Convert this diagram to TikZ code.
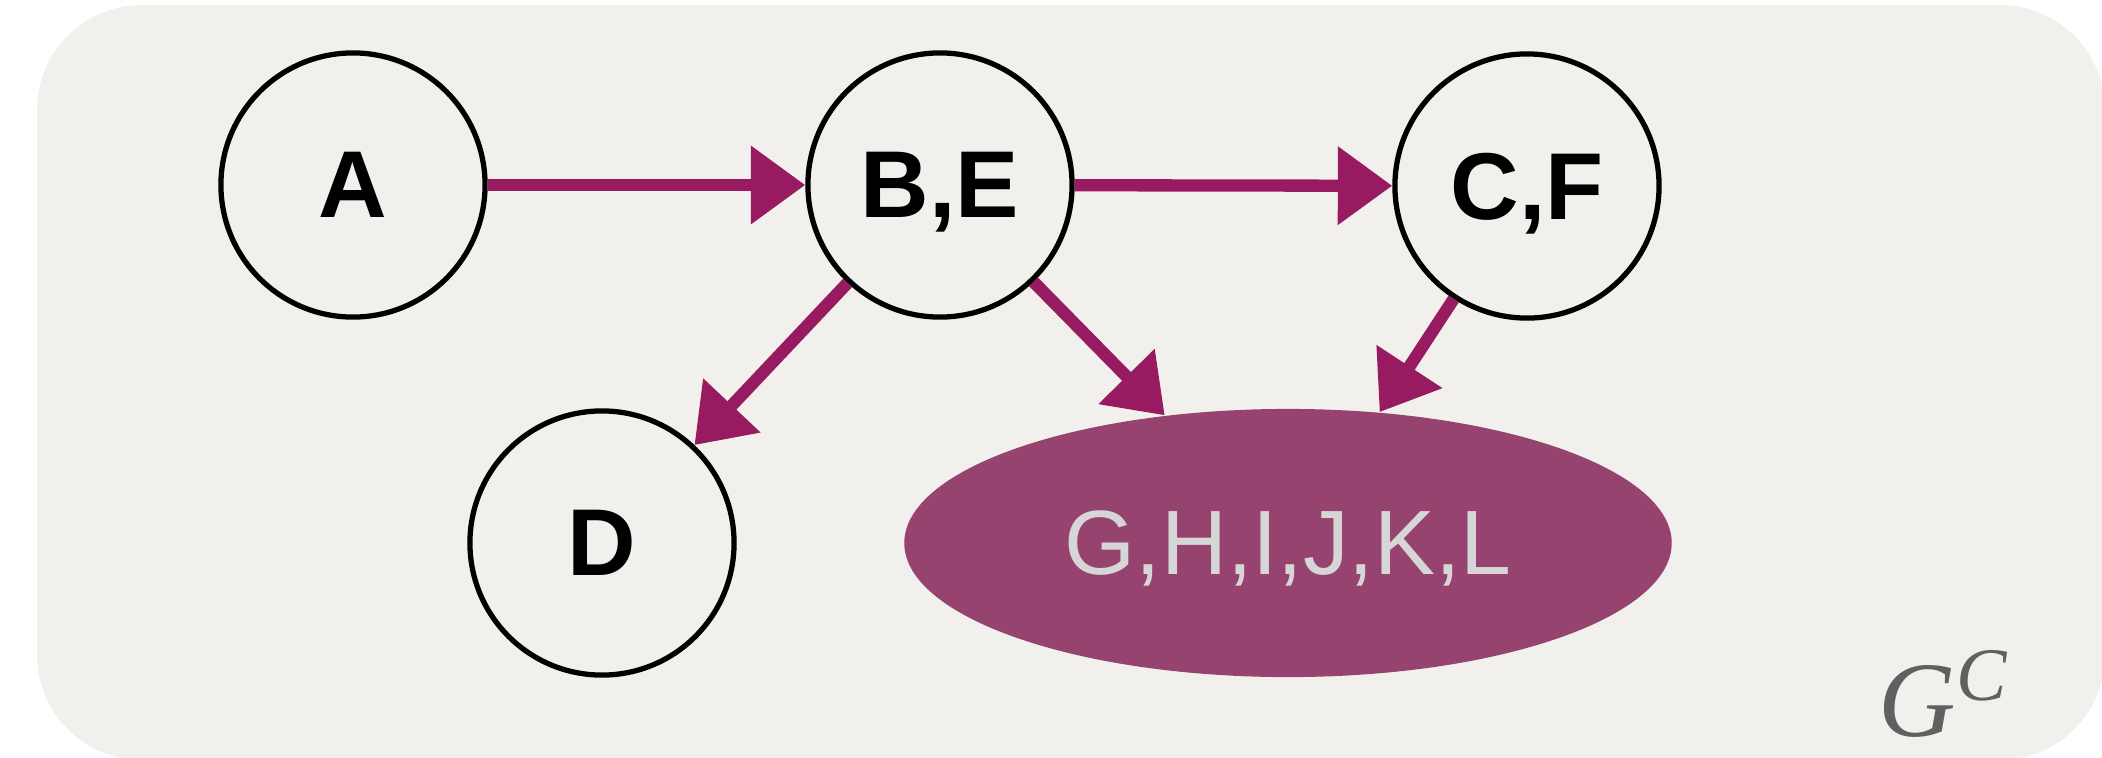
\documentclass[tikz,border=0pt]{standalone}
\usepackage{fontspec}
\setmainfont{Liberation Sans}
\newfontfamily\gcfont{Liberation Serif}
\usetikzlibrary{arrows.meta,shapes.geometric}

\definecolor{panel}{HTML}{F1F0ED}
\definecolor{plum}{HTML}{96436F}
\definecolor{crayon}{HTML}{981A60}
\definecolor{paletext}{HTML}{D6D6D6}
\definecolor{labelgray}{HTML}{606060}

\tikzset{
  cluster/.style={circle, draw=black, line width=1.5pt, minimum size=2.64cm,
    inner sep=0pt, text depth=0pt, font=\fontsize{27}{27}\selectfont\bfseries},
  bignode/.style={ellipse, fill=plum, minimum width=7.67cm, minimum height=2.68cm,
    inner sep=0pt, text depth=0pt, text=paletext, font=\fontsize{26}{26}\selectfont},
  edge/.style={draw=crayon, line width=3.5pt,
    -{Triangle[length=15.5pt, width=21.5pt, fill=crayon]}},
}

\begin{document}
\begin{tikzpicture}[x=0.01cm, y=-0.01cm]
  % page frame and the light panel behind the graph
  \useasboundingbox (0,0) rectangle (2102,757);
  \fill[panel, rounded corners=1.05cm] (37,5) rectangle (2105,760);

  % clusters
  \node[cluster] (A)  at (353,185)  {A};
  \node[cluster] (BE) at (940,185)  {B,E};
  \node[cluster] (CF) at (1527,186) {C,F};
  \node[cluster] (D)  at (602,543)  {D};
  \node[bignode] (GL) at (1288,543) {G,H,I,J,K,L};

  % edges between clusters
  \draw[edge] (A) -- (BE);
  \draw[edge] (BE) -- (CF);
  \draw[edge] (BE) -- (D);
  \draw[edge] (BE.-46) -- (GL.134);
  \draw[edge] (CF.-123) -- (GL.55);

  % graph label
  \node[anchor=base west, inner sep=0pt, text=labelgray,
        font=\gcfont\itshape\fontsize{30.5}{30.5}\selectfont] (lbl) at (1878,736)
    {G\raisebox{10pt}{\fontsize{21.5}{21.5}\selectfont C}};
\end{tikzpicture}
\end{document}
